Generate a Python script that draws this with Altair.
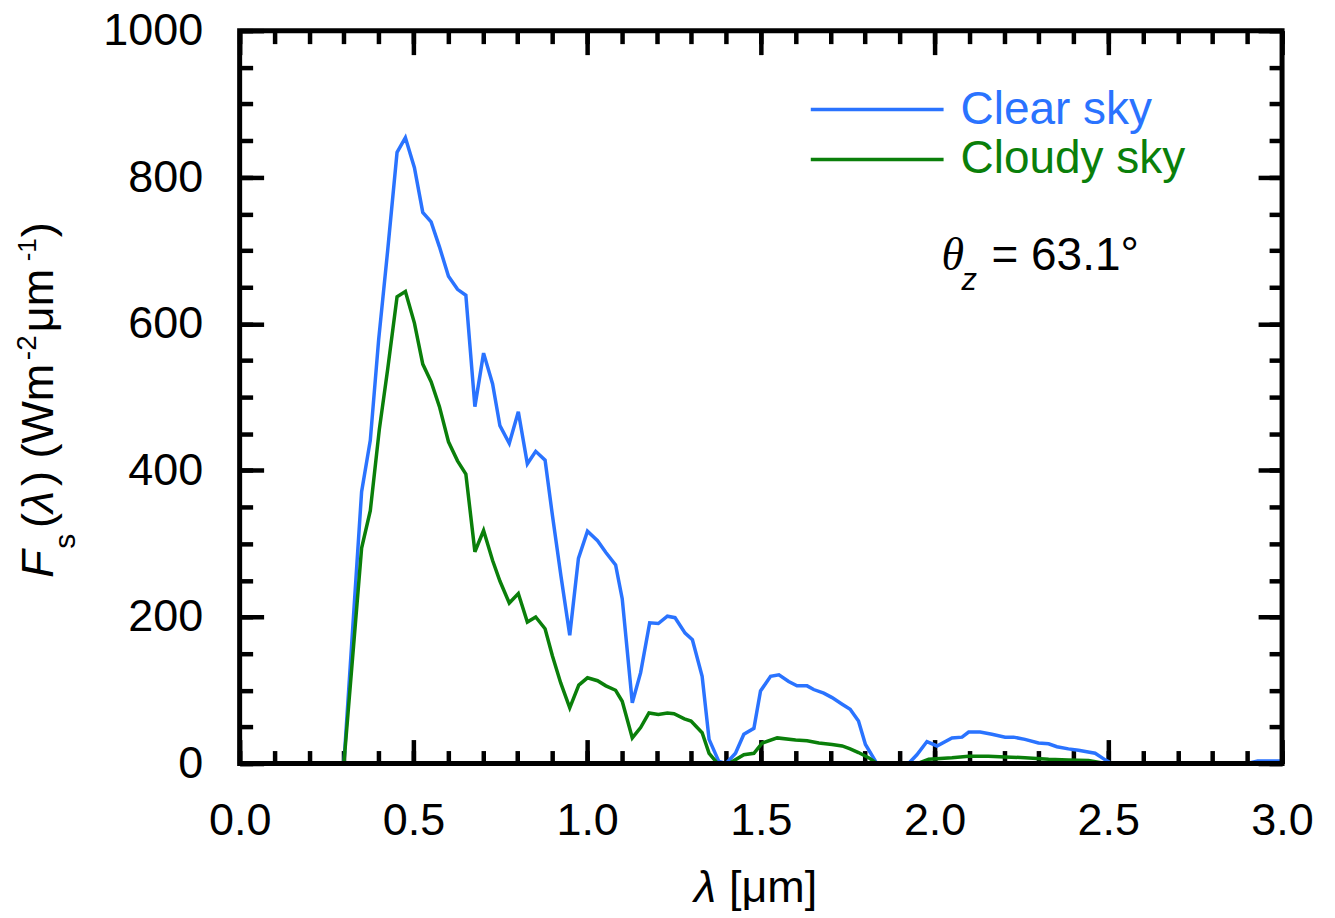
import altair as alt
import pandas as pd

# ---------------- data ----------------
wl_clear = [0.30, 0.351, 0.376, 0.400, 0.426, 0.453, 0.477, 0.503, 0.527, 0.551,
            0.575, 0.601, 0.627, 0.651, 0.677, 0.702, 0.728, 0.749, 0.776, 0.802,
            0.828, 0.852, 0.879, 0.900, 0.925, 0.950, 0.975, 1.001, 1.030, 1.054,
            1.082, 1.101, 1.130, 1.154, 1.180, 1.205, 1.231, 1.253, 1.282, 1.303,
            1.331, 1.351, 1.379, 1.400, 1.427, 1.451, 1.480, 1.499, 1.528, 1.552,
            1.580, 1.604, 1.633, 1.652, 1.681, 1.705, 1.734, 1.757, 1.781, 1.801,
            1.834, 1.925, 1.949, 1.978, 2.007, 2.050, 2.079, 2.098, 2.131, 2.165,
            2.203, 2.227, 2.260, 2.299, 2.328, 2.352, 2.385, 2.414, 2.438, 2.462,
            2.491, 2.510, 2.900, 2.930, 3.000]
flux_clear = [0, 371, 441, 578, 700, 834, 854, 813, 752, 739,
              705, 665, 647, 639, 487, 560, 518, 461, 437, 480,
              409, 426, 414, 339, 255, 175, 280, 317, 304, 288,
              271, 225, 83, 124, 192, 191, 201, 199, 178, 169,
              119, 33, 3, 0, 14, 40, 48, 99, 119, 121,
              112, 106, 106, 101, 96, 90, 81, 74, 58, 26,
              0, 0, 12, 30, 24, 35, 36, 43, 43, 40,
              36, 36, 33, 28, 27, 23, 20, 18, 16, 14,
              5, 0, 0, 3.5, 3.5]

wl_cloudy = [0.30, 0.351, 0.376, 0.402, 0.426, 0.453, 0.477, 0.503, 0.527, 0.551,
             0.575, 0.601, 0.627, 0.651, 0.677, 0.702, 0.728, 0.749, 0.776, 0.802,
             0.828, 0.852, 0.879, 0.900, 0.924, 0.950, 0.976, 1.001, 1.030, 1.054,
             1.082, 1.101, 1.130, 1.154, 1.178, 1.205, 1.231, 1.250, 1.280, 1.299,
             1.331, 1.351, 1.374, 1.412, 1.451, 1.480, 1.504, 1.547, 1.600, 1.633,
             1.667, 1.705, 1.734, 1.757, 1.781, 1.810, 1.834, 1.950, 1.983, 2.050,
             2.098, 2.155, 2.203, 2.260, 2.328, 2.385, 2.443, 2.491, 3.000]
flux_cloudy = [0, 294, 345, 456, 538, 637, 644, 601, 545, 521,
               487, 439, 413, 395, 289, 318, 277, 249, 219, 232,
               193, 200, 184, 147, 110, 76, 107, 117, 113, 106,
               100, 85, 35, 49, 69, 67, 69, 68, 61, 58,
               42, 14, 1, 1, 12, 14, 28, 35, 32, 31,
               28, 26, 24, 20, 15, 8, 0, 0, 6, 8,
               10, 10, 9, 8, 6, 5, 4, 0, 0]

series_names = ["Clear sky", "Cloudy sky"]
series_colors = ["#2a73ff", "#0a7f0a"]

x_major_ticks = [0.0, 0.5, 1.0, 1.5, 2.0, 2.5, 3.0]
x_minor_ticks = [0.0, 0.1, 0.2, 0.3, 0.4, 0.5, 0.6, 0.7, 0.8, 0.9, 1.0,
                 1.1, 1.2, 1.3, 1.4, 1.5, 1.6, 1.7, 1.8, 1.9, 2.0,
                 2.1, 2.2, 2.3, 2.4, 2.5, 2.6, 2.7, 2.8, 2.9, 3.0]
y_major_ticks = [0, 200, 400, 600, 800, 1000]
y_minor_ticks = [0, 50, 100, 150, 200, 250, 300, 350, 400, 450, 500,
                 550, 600, 650, 700, 750, 800, 850, 900, 950, 1000]

zenith_label = "= 63.1°"

# ---------------- build table ----------------
df = pd.concat([
    pd.DataFrame({"wl": wl_clear, "flux": flux_clear, "series": series_names[0]}),
    pd.DataFrame({"wl": wl_cloudy, "flux": flux_cloudy, "series": series_names[1]}),
], ignore_index=True)

W, H = 1044, 734
FONT = "Liberation Sans"
MAJ, MIN = 24, 13

x_scale = alt.Scale(domain=[0, 3], nice=False, zero=False)
y_scale = alt.Scale(domain=[0, 1000], nice=False, zero=False)


def axis(orient, values, size, labels=False, fmt=None, pad=0):
    kw = dict(orient=orient, values=values, offset=-size, tickSize=size,
              tickWidth=4.5, tickColor="black", domain=False, grid=False,
              labels=labels, labelFlush=False, labelOverlap=False)
    if labels:
        kw.update(format=fmt, labelFont=FONT, labelFontSize=45,
                  labelColor="black", labelPadding=pad)
    return alt.Axis(**kw)


def base_layer(xa, ya, visible=False):
    enc = dict(
        x=alt.X("wl:Q", scale=x_scale, axis=xa, title=None),
        y=alt.Y("flux:Q", scale=y_scale, axis=ya, title=None),
    )
    if visible:
        return alt.Chart(df).mark_line(strokeWidth=3.5).encode(
            color=alt.Color("series:N", scale=alt.Scale(domain=series_names, range=series_colors),
                            legend=None),
            **enc)
    return alt.Chart(df).mark_line(opacity=0).encode(detail="series:N", **enc)


lines = base_layer(axis("bottom", x_major_ticks, MAJ, True, ".1f", 35),
                   axis("left", y_major_ticks, MAJ, True, "d", 37), visible=True)
minor_bl = base_layer(axis("bottom", x_minor_ticks, MIN), axis("left", y_minor_ticks, MIN))
major_tr = base_layer(axis("top", x_major_ticks, MAJ), axis("right", y_major_ticks, MAJ))
minor_tr = base_layer(axis("top", x_minor_ticks, MIN), axis("right", y_minor_ticks, MIN))

one = pd.DataFrame({"a": [0]})

frame = alt.Chart(one).mark_rect(filled=False, stroke="black", strokeWidth=5).encode(
    x=alt.value(0), x2=alt.value(W), y=alt.value(0), y2=alt.value(H))


def txt(s, x, y, size=45, italic=False, angle=0, font=FONT, color="black", align="left"):
    kw = dict(align=align, baseline="alphabetic", fontSize=size, font=font, color=color)
    if italic:
        kw["fontStyle"] = "italic"
    if angle:
        kw["angle"] = angle
    return alt.Chart(one).mark_text(**kw).encode(
        x=alt.value(x), y=alt.value(y), text=alt.value(s))


# legend
legend_layers = []
for i, (name, col) in enumerate(zip(series_names, series_colors)):
    legend_layers.append(
        alt.Chart(one).mark_rule(strokeWidth=3.5, color=col).encode(
            x=alt.value(572), x2=alt.value(705), y=alt.value(79 + 50 * i)))
    legend_layers.append(txt(name, 722, 93 + 50 * i, size=46, color=col))

# zenith annotation
annot = [
    txt("θ", 703, 240, size=46, italic=True, font="Liberation Serif"),
    txt("z", 723, 260, size=31, italic=True),
    txt(zenith_label, 753, 240, size=46),
]

# x title
xtitle = [
    txt("λ", 455, 873, size=45, italic=True),
    txt("[μm]", 490, 873, size=45),
]

# y title (rotated pieces), x = baseline position, y = start position (page px)
def ypiece(s, ypage, xpage, size=45, italic=False):
    return txt(s, xpage - 240, ypage - 30, size=size, italic=italic, angle=270)

ytitle = [
    ypiece("F", 578, 53, italic=True),
    ypiece("s", 549, 75, size=30),
    ypiece("(", 528, 53),
    ypiece("λ", 513, 53, italic=True),
    ypiece(") (Wm", 486, 53),
    ypiece("-2", 360, 36, size=28),
    ypiece("μm", 332, 53),
    ypiece("-1", 261, 36, size=26),
    ypiece(")", 237, 53),
]

chart = alt.layer(
    lines, minor_bl, major_tr, minor_tr, frame,
    *legend_layers, *annot, *xtitle, *ytitle
).resolve_axis(x="independent", y="independent").properties(
    width=W, height=H,
    padding={"left": 232, "top": 22, "right": 45, "bottom": 150},
    autosize=alt.AutoSizeParams(type="none"),
).configure_view(strokeWidth=0)

chart.save("out.html", embed_options={"renderer": "svg", "actions": False})
